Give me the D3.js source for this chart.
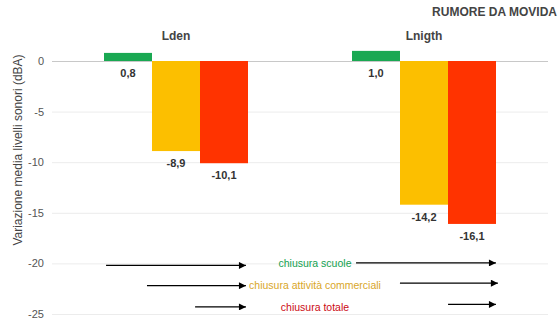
<!DOCTYPE html>
<html>
<head>
<meta charset="utf-8">
<script src="https://cdn.jsdelivr.net/npm/d3@7/dist/d3.min.js"></script>
<style>
  html, body { margin: 0; padding: 0; background: #fff; }
  svg { display: block; font-family: "Liberation Sans", Arial, sans-serif; }
</style>
</head>
<body>
<svg id="chart" width="559" height="326"></svg>
<script>
// Noise indicators and the three closure measures
const categories = ["Lden", "Lnigth"];
const seriesNames = ["chiusura scuole", "chiusura attività commerciali", "chiusura totale"];
const schoolValues = [0.8, 1.0];
const commerceValues = [-8.9, -14.2];
const totalValues = [-10.1, -16.1];
const yTicks = [0, -5, -10, -15, -20, -25];
const barColors = ["#19a852", "#fcbf00", "#ff3300"];
const textColors = ["#12a150", "#d9a628", "#cc0a14"];

// Annotation arrows: level (dB) and start/end as fractions of the category band
const arrowLevels = [-20.2, -22.2, -24.3];
const arrowStartLeft = [0.218, 0.383, 0.577];
const arrowEndLeft = [0.782, 0.782, 0.782];
const arrowStartRight = [0.226, 0.403, 0.597];
const arrowEndRight = [0.790, 0.798, 0.790];
const legendLevels = [-20, -22.1, -24.3];

const svg = d3.select("#chart");
const margin = { left: 52, right: 11, top: 61, bottom: 12 };
const W = 559, H = 326;

const x = d3.scaleBand().domain(categories).range([margin.left, W - margin.right]);
const y = d3.scaleLinear().domain([-25, 0]).range([314, 61]);
const xs = d3.scaleBand().domain(d3.range(3)).range([0, 144]);
const groupOffset = (x.bandwidth() - 144) / 2;

// Gridlines and tick labels
const yAxis = d3.axisLeft(y).tickValues(yTicks).tickSize(-(W - margin.right - margin.left))
  .tickFormat(d => d3.format("d")(d).replace("−", "-"));
const ga = svg.append("g").attr("transform", `translate(${margin.left},0)`).call(yAxis);
ga.select(".domain").remove();
ga.selectAll(".tick line").attr("stroke", d => d === 0 ? "#c8c8c8" : "#ececec").attr("stroke-width", 1);
ga.selectAll(".tick text").attr("x", -8).attr("fill", "#555").attr("font-size", 11)
  .attr("font-family", "'Liberation Sans', Arial, sans-serif");

// Bars
const seriesValues = [schoolValues, commerceValues, totalValues];
categories.forEach((cat, ci) => {
  const g = svg.append("g").attr("transform", `translate(${x(cat) + groupOffset},0)`);
  seriesValues.forEach((vals, si) => {
    const v = vals[ci];
    g.append("rect")
      .attr("x", xs(si))
      .attr("width", xs.bandwidth())
      .attr("y", y(Math.max(0, v)))
      .attr("height", Math.abs(y(v) - y(0)))
      .attr("fill", barColors[si]);
    g.append("text")
      .attr("x", xs(si) + xs.bandwidth() / 2)
      .attr("y", y(Math.min(0, v)) + 16)
      .attr("text-anchor", "middle")
      .attr("font-size", 11)
      .attr("font-weight", "bold")
      .attr("fill", "#333")
      .text(d3.format(".1f")(v).replace(".", ",").replace("−", "-"));
  });
  svg.append("text")
    .attr("x", x(cat) + x.bandwidth() / 2)
    .attr("y", 40)
    .attr("text-anchor", "middle")
    .attr("font-size", 12)
    .attr("font-weight", "bold")
    .attr("fill", "#444")
    .text(cat);
});

// Title
svg.append("text")
  .attr("x", 557).attr("y", 16)
  .attr("text-anchor", "end")
  .attr("font-size", 12).attr("font-weight", "bold")
  .attr("fill", "#444")
  .text("RUMORE DA MOVIDA");

// Y axis title
svg.append("text")
  .attr("transform", "translate(22,150) rotate(-90)")
  .attr("text-anchor", "middle")
  .attr("font-size", 12)
  .attr("fill", "#444")
  .text("Variazione media livelli sonori (dBA)");

// Arrow marker
svg.append("defs").append("marker")
  .attr("id", "arrow").attr("viewBox", "0 0 10 10")
  .attr("refX", 10).attr("refY", 5)
  .attr("markerWidth", 10).attr("markerHeight", 7)
  .attr("markerUnits", "userSpaceOnUse")
  .attr("orient", "auto")
  .append("path").attr("d", "M0,0 L10,5 L0,10 Z").attr("fill", "#000");

arrowLevels.forEach((lv, i) => {
  const b0 = x(categories[0]), b1 = x(categories[1]), bw = x.bandwidth();
  svg.append("line")
    .attr("x1", b0 + arrowStartLeft[i] * bw).attr("x2", b0 + arrowEndLeft[i] * bw)
    .attr("y1", y(lv)).attr("y2", y(lv))
    .attr("stroke", "#000").attr("stroke-width", 1.2).attr("marker-end", "url(#arrow)");
  svg.append("line")
    .attr("x1", b1 + arrowStartRight[i] * bw).attr("x2", b1 + arrowEndRight[i] * bw)
    .attr("y1", y(lv) - 2.5).attr("y2", y(lv) - 2.5)
    .attr("stroke", "#000").attr("stroke-width", 1.2).attr("marker-end", "url(#arrow)");
});

// Measure labels
seriesNames.forEach((name, i) => {
  svg.append("text")
    .attr("x", 315)
    .attr("y", y(legendLevels[i]) + 4)
    .attr("text-anchor", "middle")
    .attr("font-size", 10.5)
    .attr("fill", textColors[i])
    .text(name);
});
</script>
</body>
</html>
